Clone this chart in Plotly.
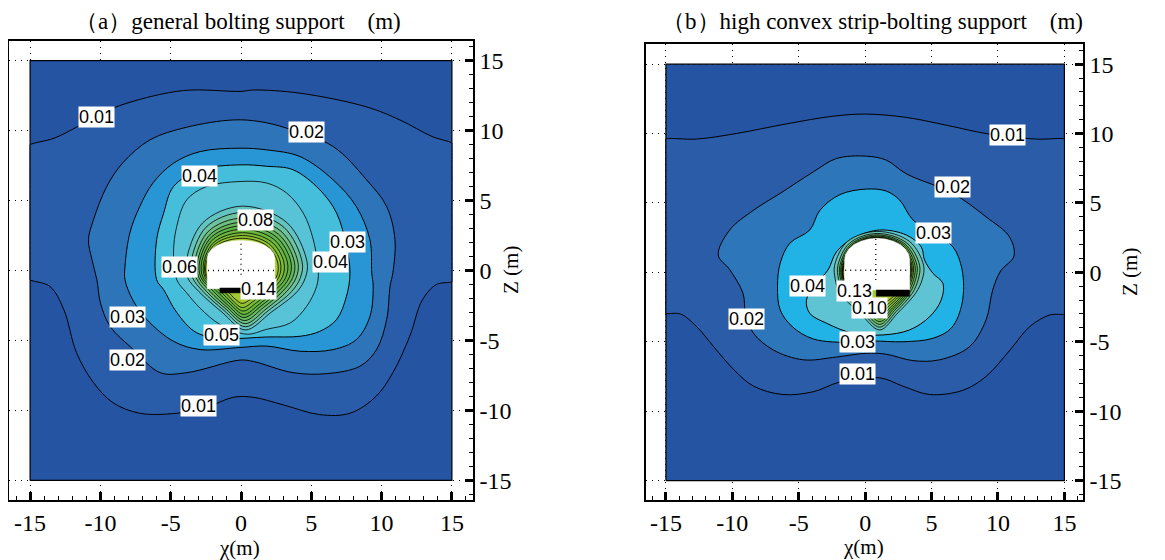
import plotly.graph_objects as go

# ---------------- data ----------------
TICK_VALS = [-15, -10, -5, 0, 5, 10, 15]
TICK_TEXT = ["-15", "-10", "-5", "0", "5", "10", "15"]

TITLE_A = "（a）general bolting support\u3000(m)"
TITLE_B = "（b）high convex strip-bolting support\u3000(m)"
X_TITLE = "χ(m)"
Z_TITLE = "Z (m)"

LEVELS_A = [0.01, 0.02, 0.03, 0.04, 0.05, 0.06, 0.07, 0.08, 0.09, 0.10, 0.11, 0.12, 0.13, 0.14]
LEVELS_B = [0.01, 0.02, 0.03, 0.04, 0.05, 0.06, 0.07, 0.08, 0.09, 0.10, 0.11, 0.12, 0.13]

COLORS_A = ["#2554a3", "#2a5da9", "#2e74b9", "#2896d5", "#45bedc", "#58c3d6", "#63c3c0",
            "#6dc2a0", "#6dbe7e", "#66b85c", "#5fb449", "#6ab73c", "#7cbd36", "#90c232", "#a4c82f"]
COLORS_B = ["#2554a3", "#2b5ca8", "#2d76ba", "#22b3e6", "#5ec4d4", "#6ac2b2", "#6fbf8c",
            "#6cbb66", "#68b84c", "#72ba3f", "#80be38", "#8ec234", "#9cc631", "#a8c92f"]

# ---- panel (a): contour outlines (x, z) ----
A_UP01 = [(-15, 8.98), (-13.3, 9.45), (-11.6, 10.3), (-10.0, 11.2), (-8.1, 11.96), (-4.1, 12.86),
          (0, 12.8), (0.9, 12.9), (4.2, 12.67), (8.9, 11.7), (11.3, 10.76), (13.6, 9.57), (15, 9.1)]
A_LO01 = [(15, -0.8), (13.9, -1.0), (12.9, -2.1), (12.0, -4.7), (10.8, -7.3), (9.6, -9.0),
          (7.75, -10.2), (5.6, -10.3), (3.0, -9.6), (0.87, -9.06), (-0.55, -9.06), (-2.5, -9.8),
          (-4.57, -10.2), (-7.2, -10.2), (-9.1, -9.45), (-10.5, -8.0), (-11.7, -5.87),
          (-12.6, -2.8), (-13.6, -1.13), (-15, -0.66)]
A_C02 = [(-0.55, 10.76), (-3.86, 10.24), (-6.47, 9.34), (-8.4, 7.7), (-9.55, 6.0), (-10.5, 3.6),
         (-10.85, 2.2), (-10.6, 0.77), (-10.25, -0.66), (-10.0, -2.3), (-9.3, -4.0), (-7.65, -5.65),
         (-5.75, -7.3), (-3.85, -7.3), (-0.07, -6.4), (0.87, -6.5), (3.7, -7.3), (6.1, -7.37),
         (8.46, -6.84), (9.64, -5.65), (10.36, -3.5), (10.6, -1.13), (10.8, -0.16), (10.95, 2.2),
         (10.36, 4.57), (8.93, 6.48), (6.55, 8.86), (3.25, 10.17), (1.35, 10.64)]
A_C03 = [(-0.07, 8.74), (-2.9, 8.5), (-4.8, 7.67), (-6.25, 6.27), (-7.2, 4.57), (-7.9, 2.7),
         (-8.25, 0.3), (-8.25, -0.66), (-7.7, -2.1), (-6.7, -3.5), (-4.8, -5.06), (-2.9, -5.65),
         (-0.07, -5.5), (1.83, -5.4), (4.2, -5.77), (6.55, -5.65), (8.2, -4.94), (9.17, -3.28),
         (9.4, -1.13), (9.3, -0.18), (9.17, 2.2), (8.2, 4.57), (6.55, 6.48), (4.2, 8.14), (1.83, 8.62)]
A_C04 = [(-0.07, 7.55), (-2.9, 7.2), (-4.8, 6.0), (-5.5, 4.1), (-6.0, 2.2), (-6.0, -0.66),
         (-5.5, -1.37), (-4.57, -3.0), (-3.15, -4.45), (-1.0, -4.85), (1.83, -4.75), (4.2, -4.7),
         (5.6, -4.35), (6.8, -3.5), (7.5, -1.85), (7.75, -0.18), (7.5, 1.72), (6.8, 4.1),
         (5.6, 5.77), (3.7, 7.2), (1.83, 7.45)]
A_C05 = [(-0.07, 6.36), (-2.44, 6.0), (-3.86, 5.05), (-4.57, 3.15), (-4.8, 1.25), (-4.57, -0.66),
         (-3.86, -1.6), (-2.9, -2.7), (-1.5, -3.85), (0.4, -4.55), (1.83, -4.2), (3.5, -3.75),
         (4.67, -2.56), (5.38, -1.13), (5.5, -0.18), (5.14, 2.2), (4.43, 4.1), (3.25, 5.53), (1.83, 6.25)]
A_C06 = [(0.1, 4.6), (-2.73, 3.4), (-3.9, 0.6), (-3.8, -0.5), (-3.0, -1.5), (-1.35, -2.98),
         (0.3, -4.25), (2.15, -2.98), (4.0, -1.5), (4.58, -0.5), (4.7, 0.6), (3.29, 3.4)]
A_C07 = [(0.1, 4.15), (-2.49, 3.09), (-3.55, 0.6), (-3.45, -0.5), (-2.7, -1.5), (-1.2, -2.86),
         (0.3, -4.02), (1.95, -2.86), (3.6, -1.5), (4.23, -0.5), (4.35, 0.6), (3.05, 3.09)]
A_C08 = [(0.1, 3.75), (-2.31, 2.81), (-3.3, 0.6), (-3.2, -0.5), (-2.45, -1.5), (-1.08, -2.75),
         (0.3, -3.8), (1.78, -2.75), (3.25, -1.5), (3.93, -0.5), (4.05, 0.6), (2.84, 2.81)]
A_C09 = [(0.1, 3.45), (-2.17, 2.6), (-3.1, 0.6), (-3.0, -0.5), (-2.2, -1.5), (-0.98, -2.64),
         (0.25, -3.58), (1.6, -2.64), (2.95, -1.5), (3.68, -0.5), (3.8, 0.6), (2.66, 2.6)]
A_C10 = [(0.1, 3.2), (-2.07, 2.42), (-2.95, 0.6), (-2.85, -0.5), (-1.95, -1.5), (-0.88, -2.53),
         (0.2, -3.36), (1.43, -2.53), (2.65, -1.5), (3.43, -0.5), (3.55, 0.6), (2.49, 2.42)]
A_C11 = [(0.1, 2.95), (-1.96, 2.25), (-2.8, 0.6), (-2.7, -0.5), (-1.7, -1.5), (-0.75, -2.42),
         (0.2, -3.14), (1.28, -2.42), (2.35, -1.5), (3.18, -0.5), (3.3, 0.6), (2.31, 2.25)]
A_C12 = [(0.1, 2.7), (-1.86, 2.07), (-2.65, 0.6), (-2.55, -0.5), (-1.45, -1.5), (-0.65, -2.3),
         (0.15, -2.9), (1.1, -2.3), (2.05, -1.5), (2.93, -0.5), (3.05, 0.6), (2.14, 2.07)]
A_C13 = [(0.1, 2.5), (-1.79, 1.93), (-2.55, 0.6), (-2.45, -0.5), (-1.2, -1.5), (-0.55, -2.18),
         (0.1, -2.65), (0.9, -2.18), (1.7, -1.5), (2.68, -0.5), (2.8, 0.6), (1.96, 1.93)]
A_C14 = [(0.1, 2.3), (-1.72, 1.79), (-2.45, 0.6), (-2.38, -0.5), (-0.95, -1.5), (-0.43, -2.03),
         (0.1, -2.35), (0.7, -2.03), (1.3, -1.5), (2.5, -0.5), (2.6, 0.6), (1.82, 1.79)]
A_TUNNEL = [(-2.4, -1.3), (2.4, -1.3), (2.4, 0.9), (2.32, 1.22), (2.08, 1.52), (1.7, 1.78),
            (1.2, 1.98), (0.62, 2.11), (0, 2.15), (-0.62, 2.11), (-1.2, 1.98), (-1.7, 1.78),
            (-2.08, 1.52), (-2.32, 1.22), (-2.4, 0.9)]
A_BAR = [(-1.5, -1.25), (0.0, -1.25), (0.0, -1.6), (-1.5, -1.6)]
A_CROSS_V = [(0, -0.3), (0, 2.1)]
A_CROSS_H = [(-2.35, 0), (2.35, 0)]

A_LABEL_TEXT = ["0.01", "0.02", "0.04", "0.08", "0.03", "0.04", "0.06", "0.14", "0.03", "0.05", "0.02", "0.01"]
A_LABEL_X = [-10.25, 4.67, -2.98, 1.05, 7.6, 6.33, -4.34, 1.23, -8.07, -1.37, -8.05, -3.03]
A_LABEL_Z = [10.94, 9.9, 6.77, 3.63, 2.02, 0.6, 0.24, -1.3, -3.33, -4.6, -6.37, -9.7]

# ---- panel (b): contour outlines (x, z) ----
B_UP01 = [(-15, 9.6), (-12.7, 9.6), (-9.7, 10.0), (-5.9, 10.7), (-2.4, 11.25), (0.1, 11.4),
          (3.1, 11.16), (6.6, 10.5), (9.1, 10.0), (12.9, 9.6), (15, 9.6)]
B_LO01 = [(15, -3.0), (13.9, -3.07), (12.4, -3.9), (10.9, -5.6), (9.1, -7.5), (7.35, -8.5),
          (4.85, -8.8), (2.85, -8.2), (1.1, -7.6), (-1.9, -7.9), (-3.9, -8.6), (-6.2, -8.8),
          (-8.4, -8.2), (-9.9, -7.0), (-11.4, -5.36), (-12.7, -3.9), (-13.9, -3.0), (-15, -2.95)]
B_C02 = [(0.1, 8.37), (-2.16, 8.2), (-3.9, 7.24), (-6.4, 5.69), (-8.4, 4.48), (-10.2, 3.05),
         (-11.06, 1.25), (-10.2, 0.2), (-9.2, -1.5), (-9.0, -3.0), (-8.4, -4.4), (-6.9, -5.6),
         (-4.67, -6.3), (-2.16, -6.1), (0.1, -5.83), (1.6, -5.9), (3.6, -6.36), (5.6, -6.3),
         (7.85, -5.36), (9.1, -3.43), (9.6, -1.27), (10.2, 0.1), (11.2, 1.17), (10.86, 2.56),
         (9.1, 4.0), (6.6, 5.69), (3.1, 7.1), (1.6, 8.08)]
B_C03 = [(0.1, 6.0), (-1.9, 5.6), (-3.4, 4.48), (-4.17, 3.05), (-5.67, 2.1), (-6.4, 0.65),
         (-6.6, -1.04), (-6.4, -2.7), (-5.5, -3.9), (-3.9, -4.8), (-1.0, -5.05), (0.6, -4.95),
         (2.85, -5.0), (5.1, -4.75), (6.5, -4.0), (7.3, -2.2), (7.3, 0.17), (6.6, 1.84),
         (5.15, 2.8), (3.6, 3.77), (2.6, 5.2), (1.6, 5.85)]
B_C04 = [(1.09, 3.05), (-0.92, 2.45), (-2.16, 1.48), (-2.8, 0.17), (-3.67, -0.79), (-4.42, -2.0),
         (-4.17, -2.95), (-2.9, -3.67), (-0.92, -4.39), (1.34, -4.51), (3.34, -4.15), (4.85, -3.2),
         (5.72, -2.0), (5.85, -0.79), (5.1, -0.07), (4.47, 0.89), (4.22, 1.84), (3.1, 2.69)]
B_C05 = [(0.9, 2.95), (-1.34, 2.22), (-2.3, 0.5), (-2.25, -0.5), (-1.9, -1.5), (-0.4, -2.93),
         (1.1, -4.15), (2.45, -2.93), (3.8, -1.5), (4.3, -0.5), (4.4, 0.5), (3.35, 2.22)]
B_C06 = [(0.9, 2.8), (-1.17, 2.11), (-2.05, 0.5), (-2.0, -0.5), (-1.6, -1.5), (-0.25, -2.83),
         (1.1, -3.95), (2.33, -2.83), (3.55, -1.5), (4.0, -0.5), (4.1, 0.5), (3.14, 2.11)]
B_C07 = [(0.9, 2.7), (-1.06, 2.04), (-1.9, 0.5), (-1.85, -0.5), (-1.35, -1.5), (-0.13, -2.73),
         (1.1, -3.75), (2.23, -2.73), (3.35, -1.5), (3.8, -0.5), (3.9, 0.5), (3.0, 2.04)]
B_C08 = [(0.9, 2.62), (-0.99, 1.98), (-1.8, 0.5), (-1.75, -0.5), (-1.1, -1.5), (0.0, -2.63),
         (1.1, -3.55), (2.15, -2.63), (3.2, -1.5), (3.65, -0.5), (3.75, 0.5), (2.9, 1.98)]
B_C09 = [(0.9, 2.56), (-0.93, 1.94), (-1.72, 0.5), (-1.67, -0.5), (-0.85, -1.5), (0.13, -2.53),
         (1.1, -3.35), (2.08, -2.53), (3.05, -1.5), (3.52, -0.5), (3.62, 0.5), (2.8, 1.94)]
B_C10 = [(0.9, 2.52), (-0.89, 1.91), (-1.66, 0.5), (-1.61, -0.5), (-0.6, -1.5), (0.25, -2.43),
         (1.1, -3.15), (2.0, -2.43), (2.9, -1.5), (3.42, -0.5), (3.52, 0.5), (2.73, 1.91)]
B_C11 = [(0.9, 2.49), (-0.86, 1.89), (-1.62, 0.5), (-1.57, -0.5), (-0.35, -1.5), (0.38, -2.3),
         (1.1, -2.9), (1.93, -2.3), (2.75, -1.5), (3.35, -0.5), (3.45, 0.5), (2.69, 1.89)]
B_C12 = [(0.9, 2.47), (-0.85, 1.88), (-1.6, 0.5), (-1.55, -0.5), (-0.1, -1.5), (0.5, -2.18),
         (1.1, -2.65), (1.85, -2.18), (2.6, -1.5), (3.3, -0.5), (3.4, 0.5), (2.65, 1.88)]
B_C13 = [(0.9, 2.46), (-0.84, 1.87), (-1.58, 0.5), (-1.53, -0.5), (0.2, -1.5), (0.65, -2.03),
         (1.1, -2.35), (1.75, -2.03), (2.4, -1.5), (3.28, -0.5), (3.38, 0.5), (2.64, 1.87)]
B_TUNNEL = [(-1.55, -1.27), (3.35, -1.27), (3.35, 0.9), (3.27, 1.3), (3.02, 1.675), (2.63, 2.0),
            (2.125, 2.24), (1.53, 2.4), (0.9, 2.45), (0.27, 2.4), (-0.325, 2.24), (-0.83, 2.0),
            (-1.22, 1.675), (-1.47, 1.3), (-1.55, 0.9)]
B_BAR = [(0.84, -1.27), (3.34, -1.27), (3.34, -1.72), (0.84, -1.72)]
B_CROSS_V = [(0.8, -0.55), (0.8, 2.4)]
B_CROSS_H = [(-1.5, 0.15), (3.3, 0.15)]

B_LABEL_TEXT = ["0.01", "0.02", "0.03", "0.04", "0.13", "0.10", "0.03", "0.02", "0.01"]
B_LABEL_X = [10.7, 6.57, 5.15, -4.36, -0.79, 0.34, -0.6, -8.95, -0.54]
B_LABEL_Z = [9.92, 6.18, 2.8, -0.97, -1.35, -2.55, -5.05, -3.36, -7.32]

SQUARE = [(-15, -15), (15, -15), (15, 15), (-15, 15)]

# ---------------- figure ----------------
OFF = 8                      # the page body adds an 8 px margin round the figure
W, H = 1165 - OFF, 560 - OFF
fig = go.Figure()


def px_x(p):
    return (p - OFF) / W


def px_y(p):
    return 1 - (p - OFF) / H


def closed(pts):
    xs = [p[0] for p in pts] + [pts[0][0]]
    ys = [p[1] for p in pts] + [pts[0][1]]
    return xs, ys


def add_fill(pts, color, xa, ya, spline=True, lw=1.0, lc="black"):
    xs, ys = closed(pts)
    fig.add_trace(go.Scatter(
        x=xs, y=ys, mode="lines", fill="toself", fillcolor=color,
        line=dict(color=lc, width=lw, shape="spline" if spline else "linear", smoothing=1.0),
        xaxis=xa, yaxis=ya, hoverinfo="skip", showlegend=False))


def band(up, lo):
    return (up + [(15, up[-1][1] - 0.1), (15, lo[0][1] + 0.1)] + lo
            + [(-15, lo[-1][1] + 0.1), (-15, up[0][1] - 0.1)])


def draw_panel(xa, ya, colors, contours, tunnel, bar, cv, ch):
    add_fill(SQUARE, colors[0], xa, ya, spline=False, lw=1.2)
    for i, pts in enumerate(contours):
        add_fill(pts, colors[i + 1], xa, ya, lw=1.0 if i < 4 else 0.8)
    add_fill(tunnel, "white", xa, ya, spline=False, lw=0.5, lc="white")
    add_fill(bar, "black", xa, ya, spline=False, lw=0.5)
    for seg in (cv, ch):
        fig.add_trace(go.Scatter(
            x=[p[0] for p in seg], y=[p[1] for p in seg], mode="lines",
            line=dict(color="black", width=1.3, dash="1px,4px"),
            xaxis=xa, yaxis=ya, hoverinfo="skip", showlegend=False))


contours_a = [band(A_UP01, A_LO01), A_C02, A_C03, A_C04, A_C05, A_C06, A_C07, A_C08,
              A_C09, A_C10, A_C11, A_C12, A_C13, A_C14]
contours_b = [band(B_UP01, B_LO01), B_C02, B_C03, B_C04, B_C05, B_C06, B_C07, B_C08,
              B_C09, B_C10, B_C11, B_C12, B_C13]

draw_panel("x", "y", COLORS_A, contours_a, A_TUNNEL, A_BAR, A_CROSS_V, A_CROSS_H)
draw_panel("x2", "y2", COLORS_B, contours_b, B_TUNNEL, B_BAR, B_CROSS_V, B_CROSS_H)

SERIF = "Liberation Serif"
SANS = "Liberation Sans"


def axis_cfg(domain, rng, **kw):
    d = dict(
        domain=domain, range=rng, showline=True, linecolor="black", linewidth=1.5, mirror=True,
        ticks="inside", tickmode="array", tickvals=TICK_VALS, ticktext=TICK_TEXT,
        ticklen=8, tickwidth=3, tickcolor="black",
        minor=dict(ticks="inside", ticklen=4, tickwidth=1, tickcolor="black", dtick=1, tick0=0,
                   showgrid=False),
        showgrid=True, gridcolor="black", gridwidth=1, griddash="1px,5px", zeroline=False,
        tickfont=dict(family=SERIF, size=24, color="black"),
        automargin=False, fixedrange=True)
    d.update(kw)
    return d


fig.update_layout(
    width=W, height=H, margin=dict(l=0, r=0, t=0, b=0, pad=0), autosize=False,
    paper_bgcolor="white", plot_bgcolor="white", showlegend=False,
    xaxis=axis_cfg([px_x(9), px_x(473)], [-16.5, 16.5], anchor="y"),
    yaxis=axis_cfg([px_y(500), px_y(41)], [-16.4, 16.4], anchor="x", side="right"),
    xaxis2=axis_cfg([px_x(646), px_x(1083)], [-16.5, 16.4], anchor="y2"),
    yaxis2=axis_cfg([px_y(500), px_y(44)], [-16.4, 16.45], anchor="x2", side="right"),
)

annotations = []
for t, x, z in zip(A_LABEL_TEXT, A_LABEL_X, A_LABEL_Z):
    annotations.append(dict(x=x, y=z, xref="x", yref="y", text=t, showarrow=False,
                            bgcolor="white", borderpad=0,
                            font=dict(family=SANS, size=18, color="black")))
for t, x, z in zip(B_LABEL_TEXT, B_LABEL_X, B_LABEL_Z):
    annotations.append(dict(x=x, y=z, xref="x2", yref="y2", text=t, showarrow=False,
                            bgcolor="white", borderpad=0,
                            font=dict(family=SANS, size=18, color="black")))

TITLE_FONT = dict(family=SERIF, size=23, color="black")
AXT_FONT = dict(family=SERIF, size=21, color="black")
annotations += [
    dict(x=px_x(238), y=1.0, xref="paper", yref="paper", text=TITLE_A, showarrow=False,
         xanchor="center", yanchor="top", borderpad=0, font=TITLE_FONT),
    dict(x=px_x(872), y=1.0, xref="paper", yref="paper", text=TITLE_B, showarrow=False,
         xanchor="center", yanchor="top", borderpad=0, font=TITLE_FONT),
    dict(x=px_x(239), y=px_y(548), xref="paper", yref="paper", text=X_TITLE, showarrow=False,
         xanchor="center", yanchor="middle", font=AXT_FONT),
    dict(x=px_x(863), y=px_y(547), xref="paper", yref="paper", text=X_TITLE, showarrow=False,
         xanchor="center", yanchor="middle", font=AXT_FONT),
    dict(x=px_x(511), y=px_y(270), xref="paper", yref="paper", text=Z_TITLE, showarrow=False,
         xanchor="center", yanchor="middle", textangle=-90, font=AXT_FONT),
    dict(x=px_x(1130), y=px_y(272), xref="paper", yref="paper", text=Z_TITLE, showarrow=False,
         xanchor="center", yanchor="middle", textangle=-90, font=AXT_FONT),
]
fig.update_layout(annotations=annotations)

fig.write_html("out.html")
